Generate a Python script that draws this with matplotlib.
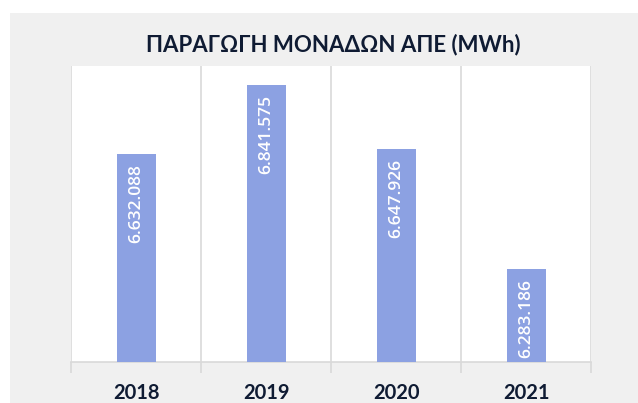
import matplotlib
matplotlib.use("Agg")
import matplotlib.pyplot as plt

title = "ΠΑΡΑΓΩΓΗ ΜΟΝΑΔΩΝ ΑΠΕ (MWh)"
years = ["2018", "2019", "2020", "2021"]
values = [6632088, 6841575, 6647926, 6283186]
labels = ["6.632.088", "6.841.575", "6.647.926", "6.283.186"]

W, H = 638, 403
fig = plt.figure(figsize=(W / 100, H / 100), dpi=100)
fig.patch.set_facecolor("white")
bg = fig.add_axes([10 / W, 0, 1 - 10 / W, 1 - 13 / H], zorder=-5)
bg.set_facecolor("#f0f0f0")
bg.set_xticks([]); bg.set_yticks([])
for s in bg.spines.values():
    s.set_visible(False)

ax = fig.add_axes([71 / W, 1 - 362 / H, (591 - 71) / W, (362 - 66) / H], zorder=1)
ax.set_facecolor("white")
x = list(range(len(years)))
bars = ax.bar(x, values, width=0.3, color="#8ca1e2", zorder=3)
ax.set_xlim(-0.5, len(years) - 0.5)
ax.set_ylim(6.0e6, 6.9e6)
ax.set_yticks([])
for s in ["top", "right", "left"]:
    ax.spines[s].set_visible(False)
ax.spines["bottom"].set_color("#d9d9d9")
ax.spines["bottom"].set_linewidth(1.2)

ax.set_xticks(x)
ax.set_xticklabels(years, fontsize=14.5, fontweight="bold", color="#0f1b33", family=["Lato", "Open Sans"])
ax.tick_params(axis="x", which="major", length=0, pad=15)
ax.set_xticks([i - 0.5 for i in range(len(years) + 1)], minor=True)
ax.tick_params(axis="x", which="minor", length=8, color="#d9d9d9", width=1.2)
ax.grid(axis="x", which="minor", color="#d9d9d9", linewidth=1.2, zorder=1)

for xi, v, lab in zip(x, values, labels):
    ax.annotate(lab, (xi, v), xytext=(0, -7), textcoords="offset points",
                rotation=90, ha="center", va="top", color="white",
                fontsize=12.5, family="Open Sans", fontweight="semibold", zorder=4)

fig.text(333 / W, 1 - 45 / H, title, ha="center", va="center", fontsize=16,
         color="#0f1b33", family=["Lato", "Open Sans"], fontweight="bold")

fig.savefig("out.png", dpi=100)
